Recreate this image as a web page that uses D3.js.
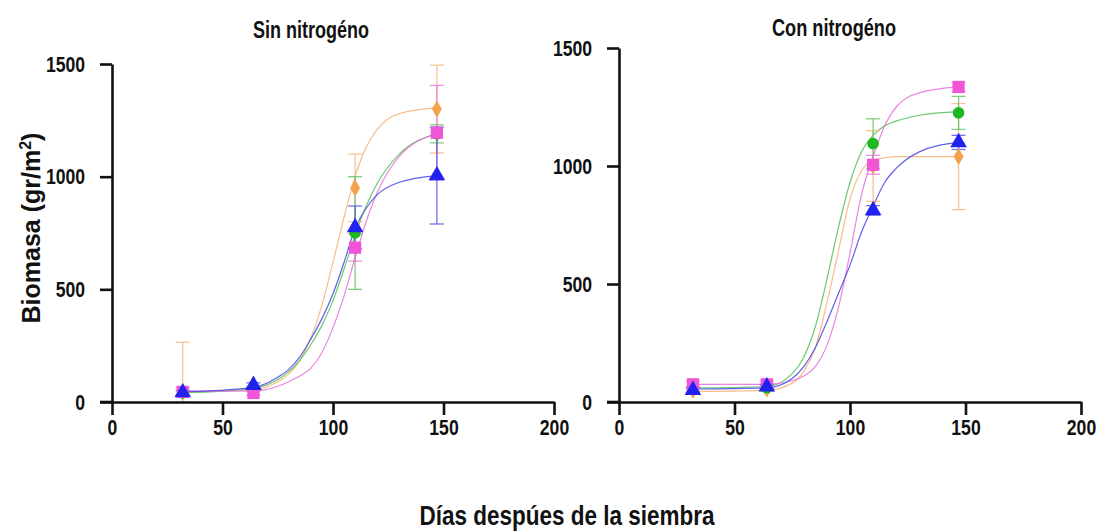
<!DOCTYPE html>
<html>
<head>
<meta charset="utf-8">
<script src="https://cdn.jsdelivr.net/npm/d3@7"></script>
<style>
  body { margin: 0; background: #fff; }
  svg text { font-family: "Liberation Sans", Arial, sans-serif; font-weight: bold; fill: #111; }
</style>
</head>
<body>
<div class="canvas"></div>
<script>
// sampling days and panel titles
const days = [32, 64, 110, 147]
const panels = ["Sin nitrogéno", "Con nitrogéno"]
const xTicks = [0, 50, 100, 150, 200]
const yTicks = [0, 500, 1000, 1500]

// Sin nitrogeno: means and error
const sinOrange = [45, 55, 950, 1300]
const sinOrangeErr = [220, 10, 150, 195]
const sinGreen = [40, 60, 750, 1190]
const sinGreenErr = [10, 10, 250, 40]
const sinMagenta = [45, 40, 685, 1195]
const sinMagentaErr = [20, 10, 60, 210]
const sinBlue = [42, 75, 775, 1005]
const sinBlueErr = [10, 10, 95, 215]

// Con nitrogeno: means and error
const conOrange = [50, 55, 1000, 1040]
const conOrangeErr = [10, 10, 150, 225]
const conGreen = [55, 60, 1095, 1225]
const conGreenErr = [10, 10, 105, 70]
const conMagenta = [75, 75, 1005, 1335]
const conMagentaErr = [15, 15, 40, 20]
const conBlue = [50, 65, 812, 1100]
const conBlueErr = [10, 10, 20, 30]

// fitted curves
const curveDays = [32, 64, 75, 80, 85, 90, 95, 100, 105, 110, 115, 120, 130, 147]
const sinOrangeFit = [45, 55, 90, 125, 185, 285, 430, 620, 820, 1000, 1130, 1210, 1280, 1305]
const sinGreenFit = [40, 60, 100, 135, 185, 255, 340, 450, 590, 740, 870, 970, 1100, 1190]
const sinMagentaFit = [48, 48, 70, 90, 115, 150, 220, 330, 470, 640, 800, 930, 1090, 1190]
const sinBlueFit = [45, 65, 110, 145, 200, 280, 370, 480, 620, 770, 860, 920, 975, 1005]
const conOrangeFit = [45, 50, 80, 130, 230, 420, 640, 860, 980, 1025, 1035, 1040, 1040, 1040]
const conGreenFit = [60, 65, 120, 190, 320, 520, 740, 930, 1060, 1130, 1170, 1190, 1215, 1230]
const conMagentaFit = [75, 75, 90, 110, 150, 240, 400, 630, 880, 1040, 1170, 1250, 1310, 1335]
const conBlueFit = [55, 60, 100, 150, 230, 340, 460, 580, 720, 830, 930, 990, 1060, 1100]

const colors = { orange: "#F4A24C", green: "#1DB81D", magenta: "#F055D8", blue: "#2222EE" }
const lineColors = { orange: "#F6B274", green: "#55C055", magenta: "#E870DC", blue: "#4444E8" }
const shapes = { orange: d3.symbolDiamond, green: d3.symbolCircle, magenta: d3.symbolSquare, blue: d3.symbolTriangle }
const sizes = { orange: 85, green: 105, magenta: 150, blue: 120 }

const panelData = [
    [
        { key: "orange", mean: sinOrange, err: sinOrangeErr, fit: sinOrangeFit },
        { key: "green", mean: sinGreen, err: sinGreenErr, fit: sinGreenFit },
        { key: "magenta", mean: sinMagenta, err: sinMagentaErr, fit: sinMagentaFit },
        { key: "blue", mean: sinBlue, err: sinBlueErr, fit: sinBlueFit }
    ],
    [
        { key: "orange", mean: conOrange, err: conOrangeErr, fit: conOrangeFit },
        { key: "green", mean: conGreen, err: conGreenErr, fit: conGreenFit },
        { key: "magenta", mean: conMagenta, err: conMagentaErr, fit: conMagentaFit },
        { key: "blue", mean: conBlue, err: conBlueErr, fit: conBlueFit }
    ]
]

const width = 1103
const height = 531
const narrow = 0.8

const svg = d3.select(".canvas")
    .append("svg")
    .attr("width", width)
    .attr("height", height)

// pixel boxes of the two panels
const boxes = [
    { x0: 112, x1: 554, y0: 402, y1: 64, titleX: 311, titleY: 38, titleLen: 116 },
    { x0: 619, x1: 1081, y0: 402, y1: 48, titleX: 834, titleY: 36, titleLen: 124 }
]

boxes.forEach((b, i) => {
    const x = d3.scaleLinear().domain([0, 200]).range([b.x0, b.x1])
    const y = d3.scaleLinear().domain([0, 1500]).range([b.y0, b.y1])
    const g = svg.append("g")

    // curves
    const line = d3.line()
        .x(d => x(d[0]))
        .y(d => y(d[1]))
        .curve(d3.curveMonotoneX)

    panelData[i].forEach(s => {
        g.append("path")
            .attr("d", line(curveDays.map((d, j) => [d, s.fit[j]])))
            .attr("fill", "none")
            .attr("stroke", lineColors[s.key])
            .attr("stroke-width", 1.2)
            .attr("opacity", 0.85)
    })

    // error bars
    panelData[i].forEach(s => {
        const eb = g.append("g")
            .attr("stroke", lineColors[s.key])
            .attr("stroke-width", 1.3)
            .attr("opacity", 0.75)
        days.forEach((d, j) => {
            const cx = x(d)
            const top = y(s.mean[j] + s.err[j])
            const bot = y(Math.max(0, s.mean[j] - s.err[j]))
            eb.append("line").attr("x1", cx).attr("x2", cx).attr("y1", top).attr("y2", bot)
            eb.append("line").attr("x1", cx - 7).attr("x2", cx + 7).attr("y1", top).attr("y2", top)
            eb.append("line").attr("x1", cx - 7).attr("x2", cx + 7).attr("y1", bot).attr("y2", bot)
        })
    })

    // markers
    panelData[i].forEach(s => {
        g.selectAll(null)
            .data(days.map((d, j) => [d, s.mean[j]]))
            .enter()
            .append("path")
            .attr("d", d3.symbol().type(shapes[s.key]).size(sizes[s.key]))
            .attr("transform", d => `translate(${x(d[0])},${y(d[1])})`)
            .attr("fill", colors[s.key])
    })

    // axes
    const xAxis = g.append("g")
        .attr("transform", `translate(0,${b.y0})`)
        .call(d3.axisBottom(x).tickValues(xTicks).tickFormat(d3.format("d"))
            .tickSize(13).tickSizeOuter(0).tickPadding(4))
    const yAxis = g.append("g")
        .attr("transform", `translate(${b.x0},0)`)
        .call(d3.axisLeft(y).tickValues(yTicks).tickFormat(d3.format("d"))
            .tickSize(12).tickSizeOuter(0).tickPadding(15))

    ;[xAxis, yAxis].forEach(ax => {
        ax.select(".domain").attr("stroke", "#111").attr("stroke-width", 2.6)
        ax.selectAll(".tick line").attr("stroke", "#111").attr("stroke-width", 2.6)
        ax.selectAll(".tick text")
            .style("font-size", "22px")
            .attr("fill", "#111")
            .attr("transform", `scale(${narrow},1)`)
    })
    yAxis.selectAll(".tick text").attr("x", -27 / narrow)

    // extend the x axis line a bit left of the y axis
    xAxis.append("line")
        .attr("x1", b.x0 - 12).attr("x2", b.x0)
        .attr("stroke", "#111").attr("stroke-width", 2.6)

    svg.append("text")
        .attr("x", b.titleX)
        .attr("y", b.titleY)
        .attr("text-anchor", "middle")
        .attr("textLength", b.titleLen)
        .attr("lengthAdjust", "spacingAndGlyphs")
        .style("font-size", "23px")
        .text(panels[i])
})

svg.append("text")
    .attr("transform", "translate(40,228) rotate(-90)")
    .attr("text-anchor", "middle")
    .style("font-size", "25px")
    .html("Biomasa (gr/m<tspan dy='-9' style='font-size:16px'>2</tspan><tspan dy='9'>)</tspan>")

svg.append("text")
    .attr("x", 567)
    .attr("y", 525)
    .attr("text-anchor", "middle")
    .attr("textLength", 295)
    .attr("lengthAdjust", "spacingAndGlyphs")
    .style("font-size", "28px")
    .text("Días despúes de la siembra")
</script>
</body>
</html>
